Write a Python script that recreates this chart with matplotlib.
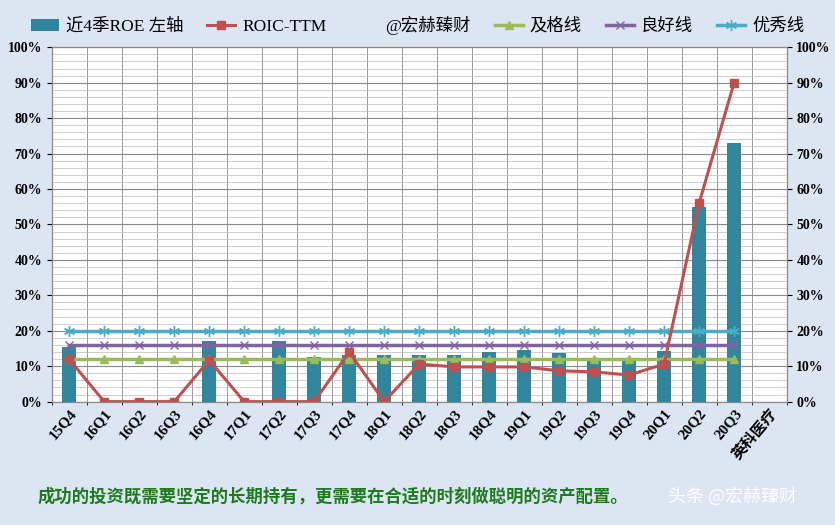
import matplotlib.pyplot as plt
import numpy as np
from matplotlib.ticker import FuncFormatter, MultipleLocator

plt.rcParams["font.family"] = ["Liberation Serif", "Noto Sans CJK SC", "DejaVu Sans"]

QUARTERS = ["15Q4", "16Q1", "16Q2", "16Q3", "16Q4", "17Q1", "17Q2", "17Q3", "17Q4",
            "18Q1", "18Q2", "18Q3", "18Q4", "19Q1", "19Q2", "19Q3", "19Q4", "20Q1",
            "20Q2", "20Q3"]
LABELS = QUARTERS + ["英科医疗"]
ROE = [15.5, 0, 0, 0, 17.2, 0, 17.2, 12.7, 13.1, 13.1, 13.1, 13.1, 14.0, 14.6,
       13.8, 11.7, 11.5, 14.3, 55.0, 73.0]
ROIC = [11.9, 0, 0, 0, 11.7, 0, 0, 0, 14.0, 0, 10.6, 9.8, 9.8, 9.8, 8.7, 8.4,
        7.5, 10.6, 56.0, 90.0]
PASS_LINE = [12] * len(QUARTERS)
GOOD_LINE = [16] * len(QUARTERS)
EXCELLENT_LINE = [20] * len(QUARTERS)

bg = "#dce6f2"
fig = plt.figure(figsize=(8.35, 5.25), dpi=100, facecolor=bg)
ax = fig.add_axes([0.062, 0.235, 0.88, 0.675])
ax.set_facecolor("white")

x = np.arange(len(QUARTERS))
h_bar = ax.bar(x, ROE, width=0.4, color="#31859c", label="近4季ROE 左轴", zorder=3)
h_roic, = ax.plot(x, ROIC, color="#c0504d", lw=2.2, marker="s", ms=6, label="ROIC-TTM", zorder=5)
h_sig, = ax.plot([], [], " ", label="@宏赫臻财")
h_pass, = ax.plot(x, PASS_LINE, color="#9bbb59", lw=2.5, marker="^", ms=6, label="及格线", zorder=4)
h_good, = ax.plot(x, GOOD_LINE, color="#8064a2", lw=2.5, marker="x", ms=6, label="良好线", zorder=4)
h_exc, = ax.plot(x, EXCELLENT_LINE, color="#4bacc6", lw=2.5, marker=(6, 2, 0), ms=8, label="优秀线", zorder=4)

ax.set_xlim(-0.5, len(LABELS) - 0.5)
ax.set_ylim(0, 100)
ax.set_xticks(np.arange(len(LABELS)))
ax.set_xticklabels(LABELS, rotation=50, ha="right", rotation_mode="anchor",
                   fontsize=11, fontweight="bold")
ax.set_xticks(np.arange(len(LABELS) + 1) - 0.5, minor=True)
ax.tick_params(axis="x", which="major", length=0)
ax.grid(axis="x", which="minor", color="#999999", lw=0.7)
ax.yaxis.set_major_locator(MultipleLocator(10))
ax.yaxis.set_minor_locator(MultipleLocator(2))
ax.grid(axis="y", which="major", color="#888888", lw=0.8)
ax.grid(axis="y", which="minor", color="#bbbbbb", lw=0.5)
ax.set_axisbelow(True)
pct = FuncFormatter(lambda v, _: f"{v:.0f}%")
ax.yaxis.set_major_formatter(pct)
ax.tick_params(axis="y", labelsize=10, which="both")
ax.tick_params(axis="y", which="minor", length=0)
for lab in ax.get_yticklabels():
    lab.set_fontweight("bold")

ax2 = ax.twinx()
ax2.set_ylim(0, 100)
ax2.yaxis.set_major_locator(MultipleLocator(10))
ax2.yaxis.set_major_formatter(pct)
ax2.tick_params(axis="y", labelsize=10)
for lab in ax2.get_yticklabels():
    lab.set_fontweight("bold")
for a in (ax, ax2):
    for s in a.spines.values():
        s.set_color("#888888")

handles = [h_bar, h_roic, h_sig, h_pass, h_good, h_exc]
fig.legend(handles=handles, labels=[h.get_label() for h in handles],
           loc="upper center", bbox_to_anchor=(0.5, 1.0), ncol=6, frameon=False,
           fontsize=12.5, handlelength=1.6, columnspacing=1.4, handletextpad=0.4)

fig.text(0.045, 0.045, "成功的投资既需要坚定的长期持有，更需要在合适的时刻做聪明的资产配置。",
         color="#1e7a1e", fontsize=12.5, fontweight="bold", family=["Noto Sans CJK SC"])
fig.text(0.8, 0.045, "头条 @宏赫臻财", color="white", fontsize=13,
         family=["Noto Sans CJK SC"])

fig.savefig("out.png", dpi=100, facecolor=bg)
